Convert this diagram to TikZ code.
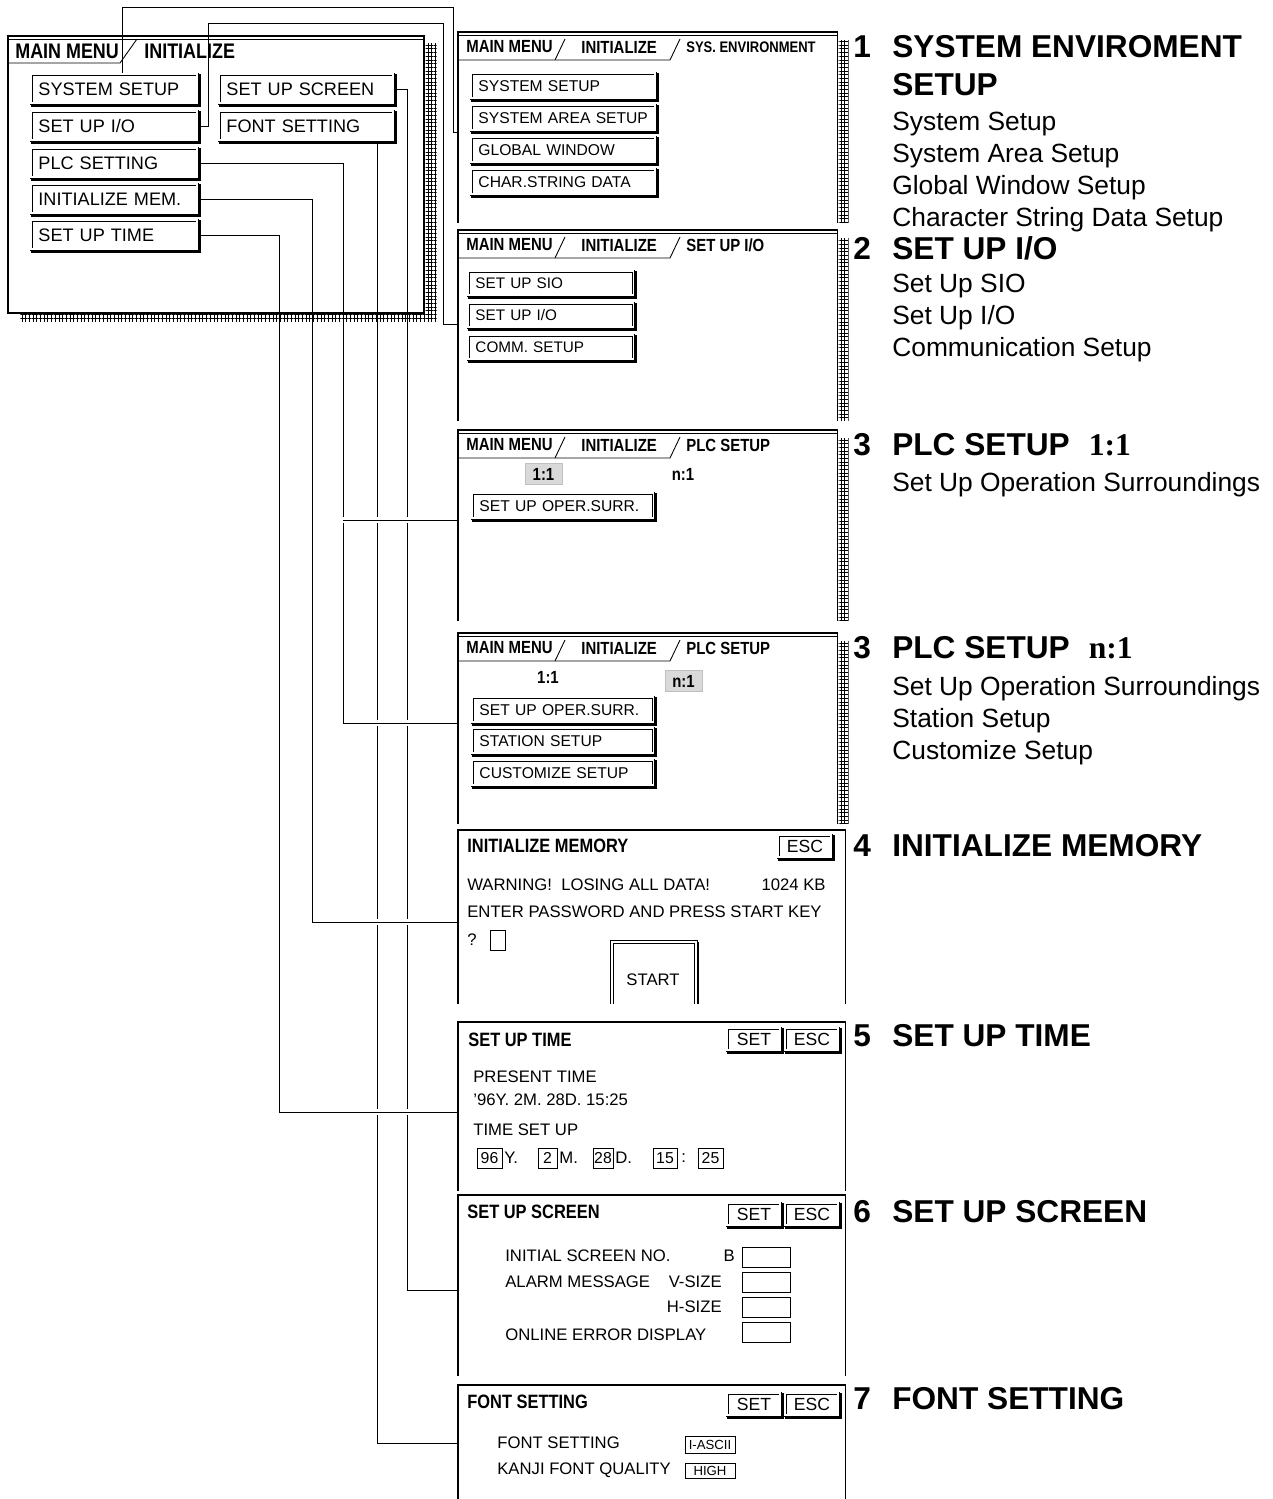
\documentclass[tikz,border=0pt]{standalone}
\usepackage{fontspec}
\setmainfont{Liberation Sans}
\newfontfamily\tabfont[FakeStretch=0.85]{Liberation Sans}
\newfontfamily\serifbf{Liberation Serif}
\usetikzlibrary{calc, backgrounds, patterns.meta}

% screen with the three title tabs
\newcommand{\tabframe}[2]{%
  \draw[frame] (#1.south west) |- (#1.north east) -- (#1.south east);
  \draw[wire] ($(#1.north west)+(0,3)$) -- ($(#1.north east)+(0,3)$);
  \fill[hatch] ($(#1.north east)+(1,8)$) rectangle ($(#1.south east)+(11,0)$);
  \draw[wire] ($(#1.north west)+(0,28)$) -- ++(212,0) -- ++(10,-21);
  \draw[wire] ($(#1.north west)+(97,28)$) -- ++(10,-21);
  \node[tabtxt] (#1-a) at ($(#1.north west)+(8,15)$) {MAIN MENU};
  \node[tabtxt] (#1-b) at ($(#1.north west)+(123,15)$) {INITIALIZE};
  \node[tabtxt] (#1-c) at ($(#1.north west)+(228,15)$) {#2};
}

\begin{document}
\begin{tikzpicture}[
    x=0.02cm, y=-0.02cm,
    frame/.style = {line width=0.9pt},
    wire/.style = {line width=0.5pt},
    gapwire/.style = {wire, preaction={draw=white, line width=3pt}},
    hatch/.style = {pattern={Hatch[angle=0, distance=2.1pt, line width=0.55pt]}},
    area/.style = {anchor=north west, inner sep=0pt},
    tabtxt/.style = {anchor=west, inner sep=0pt, font=\tabfont\bfseries\fontsize{10}{12}\selectfont},
    bigtab/.style = {tabtxt, font=\tabfont\bfseries\fontsize{12}{14}\selectfont},
    ttl/.style = {anchor=west, inner sep=0pt, font=\tabfont\bfseries\fontsize{11}{13}\selectfont},
    txt/.style = {anchor=west, inner sep=0pt, font=\fontsize{9.5}{11}\selectfont},
    btn/.style = {draw, line width=0.5pt, double, double distance=1.1pt,
                  anchor=north west, inner xsep=4pt, inner ysep=0pt, align=left,
                  append after command={\pgfextra{\let\btnnode\tikzlastnode
                    \draw[line width=1.4pt] ([xshift=1.2pt]\btnnode.north east)
                      |- ([yshift=-1.2pt]\btnnode.south west);}}},
    mbtn/.style = {btn, text width=3.04cm, minimum height=0.58cm, font=\fontsize{10.3}{12}\selectfont},
    s1btn/.style = {btn, text width=3.4cm, minimum height=0.5cm, font=\fontsize{8.9}{10}\selectfont},
    s2btn/.style = {btn, text width=3.02cm, minimum height=0.48cm, font=\fontsize{8.7}{10}\selectfont},
    s3btn/.style = {btn, text width=3.34cm, minimum height=0.5cm, font=\fontsize{8.9}{10}\selectfont},
    key/.style = {btn, inner xsep=0pt, minimum width=1.06cm, minimum height=0.44cm, font=\fontsize{10}{12}\selectfont},
    fld/.style = {draw, line width=0.5pt, inner sep=0pt, minimum height=0.4cm, font=\fontsize{9}{10}\selectfont},
    sel/.style = {fill=black!15, draw=black!25, inner sep=0pt, minimum width=0.74cm, minimum height=0.42cm,
                  font=\tabfont\bfseries\fontsize{10}{12}\selectfont},
    head/.style = {anchor=west, inner sep=0pt, font=\fontsize{18}{21}\selectfont\bfseries},
    item/.style = {anchor=north west, inner sep=0pt, align=left, font=\fontsize{15}{18.14}\selectfont}
]
    \useasboundingbox (0,0) rectangle (1273,1499);

    % MAIN MENU window
    \node[area, draw, frame, minimum width=8.32cm, minimum height=5.54cm] (mainwin) at (7,35) {};
    \draw[wire] ($(mainwin.north west)+(0,4)$) -- ($(mainwin.north east)+(0,4)$);
    \draw[wire] ($(mainwin.north west)+(0,28)$) -- ++(113,0) -- ++(17,-24);
    \fill[hatch] ($(mainwin.north east)+(1,8)$) rectangle ($(mainwin.south east)+(12,8)$);
    \fill[hatch] ($(mainwin.south west)+(13,1)$) rectangle ($(mainwin.south east)+(1,8)$);
    \node[bigtab] (mt1) at (15,51) {MAIN MENU};
    \node[bigtab] (mt2) at (144,51) {INITIALIZE};

    \node[mbtn] (msys) at (31,74) {SYSTEM SETUP};
    \node[mbtn] (mio) at (31,111) {SET UP I/O};
    \node[mbtn] (mplc) at (31,148) {PLC SETTING};
    \node[mbtn] (mmem) at (31,184) {INITIALIZE MEM.};
    \node[mbtn] (mtime) at (31,220) {SET UP TIME};
    \node[mbtn, text width=3.2cm] (mscr) at (219,74) {SET UP SCREEN};
    \node[mbtn, text width=3.2cm] (mfont) at (219,111) {FONT SETTING};

    % 1 system environment
    \node[area, minimum width=7.58cm, minimum height=3.8cm] (scr1) at (458,32) {};
    \tabframe{scr1}{\fontsize{8.7}{10}\selectfont SYS. ENVIRONMENT}
    \node[s1btn] (s1a) at (471,73) {SYSTEM SETUP};
    \node[s1btn] (s1b) at (471,105) {SYSTEM AREA SETUP};
    \node[s1btn] (s1c) at (471,137) {GLOBAL WINDOW};
    \node[s1btn] (s1d) at (471,169) {CHAR.STRING DATA};

    % 2 set up i/o
    \node[area, minimum width=7.58cm, minimum height=3.8cm] (scr2) at (458,230) {};
    \tabframe{scr2}{SET UP I/O}
    \node[s2btn] (s2a) at (468,271) {SET UP SIO};
    \node[s2btn] (s2b) at (468,303) {SET UP I/O};
    \node[s2btn] (s2c) at (468,335) {COMM. SETUP};

    % 3 plc setup 1:1
    \node[area, minimum width=7.58cm, minimum height=3.8cm] (scr3) at (458,430) {};
    \tabframe{scr3}{PLC SETUP}
    \node[sel] (s3one) at (543.5,474) {1:1};
    \node[tabtxt, anchor=center] (s3n) at (683,474) {n:1};
    \node[s3btn] (s3a) at (472,493) {SET UP OPER.SURR.};

    % 3 plc setup n:1
    \node[area, minimum width=7.58cm, minimum height=3.8cm] (scr4) at (458,633) {};
    \tabframe{scr4}{PLC SETUP}
    \node[tabtxt, anchor=center] (s4one) at (548,677) {1:1};
    \node[sel] (s4n) at (683.5,681) {n:1};
    \node[s3btn] (s4a) at (472,697) {SET UP OPER.SURR.};
    \node[s3btn] (s4b) at (472,728) {STATION SETUP};
    \node[s3btn] (s4c) at (472,760) {CUSTOMIZE SETUP};

    % 4 initialize memory
    \node[area, minimum width=7.74cm, minimum height=3.46cm] (scr5) at (458,830) {};
    \draw[frame] (scr5.south west) |- (scr5.north east) -- (scr5.south east);
    \node[ttl] (s5t) at (467,846) {INITIALIZE MEMORY};
    \node[key] (s5esc) at (778,835) {ESC};
    \node[txt] (s5w) at (467,885) {WARNING!\ \ LOSING ALL DATA!};
    \node[txt, anchor=east] (s5kb) at (826,885) {1024 KB};
    \node[txt] (s5p) at (467,912) {ENTER PASSWORD AND PRESS START KEY};
    \node[txt] (s5q) at (467,940) {?};
    \node[fld, minimum width=0.3cm] (s5pw) at (497.5,940) {};
    \node[area, minimum width=1.66cm, minimum height=1.22cm] (start) at (612,942) {};
    \draw[line width=0.5pt, double, double distance=1.1pt] (start.south west) |- (start.north east) -- (start.south east);
    \draw[line width=1.4pt] ([xshift=1.2pt]start.north east) -- ([xshift=1.2pt]start.south east);
    \node[txt, anchor=center] (s5go) at (653,980) {START};

    % 5 set up time
    \node[area, minimum width=7.74cm, minimum height=3.36cm] (scr6) at (458,1022) {};
    \draw[frame] (scr6.south west) |- (scr6.north east) -- (scr6.south east);
    \node[ttl] (s6t) at (468,1040) {SET UP TIME};
    \node[key] (s6set) at (727,1028) {SET};
    \node[key] (s6esc) at (785,1028) {ESC};
    \node[txt] (s6a) at (473,1077) {PRESENT TIME};
    \node[txt] (s6b) at (473,1100) {'96Y.\ 2M.\ 28D.\ 15:25};
    \node[txt] (s6c) at (473,1130) {TIME SET UP};
    \node[fld, minimum width=0.5cm] (s6y) at (489.5,1158) {96};
    \node[txt] (s6yl) at (504,1158) {Y.};
    \node[fld, minimum width=0.38cm] (s6m) at (547.5,1158) {2};
    \node[txt] (s6ml) at (559,1158) {M.};
    \node[fld, minimum width=0.4cm] (s6d) at (603,1158) {28};
    \node[txt] (s6dl) at (615,1158) {D.};
    \node[fld, minimum width=0.48cm] (s6h) at (665,1158) {15};
    \node[txt] (s6hl) at (681,1158) {:};
    \node[fld, minimum width=0.5cm] (s6mi) at (710.5,1158) {25};

    % 6 set up screen
    \node[area, minimum width=7.74cm, minimum height=3.6cm] (scr7) at (458,1195) {};
    \draw[frame] (scr7.south west) |- (scr7.north east) -- (scr7.south east);
    \node[ttl] (s7t) at (467,1212) {SET UP SCREEN};
    \node[key] (s7set) at (727,1203) {SET};
    \node[key] (s7esc) at (785,1203) {ESC};
    \node[txt] (s7a) at (505,1256) {INITIAL SCREEN NO.};
    \node[txt, anchor=east] (s7b) at (735,1256) {B};
    \node[fld, minimum width=0.96cm] (s7f1) at (766,1257) {};
    \node[txt] (s7c) at (505,1282) {ALARM MESSAGE};
    \node[txt, anchor=east] (s7v) at (722,1282) {V-SIZE};
    \node[fld, minimum width=0.96cm] (s7f2) at (766,1282) {};
    \node[txt, anchor=east] (s7h) at (722,1307) {H-SIZE};
    \node[fld, minimum width=0.96cm] (s7f3) at (766,1307) {};
    \node[txt] (s7d) at (505,1335) {ONLINE ERROR DISPLAY};
    \node[fld, minimum width=0.96cm] (s7f4) at (766,1332) {};

    % 7 font setting
    \node[area, minimum width=7.74cm, minimum height=2.28cm] (scr8) at (458,1385) {};
    \draw[frame] (scr8.south west) |- (scr8.north east) -- (scr8.south east);
    \node[ttl] (s8t) at (467,1402) {FONT SETTING};
    \node[key] (s8set) at (727,1393) {SET};
    \node[key] (s8esc) at (785,1393) {ESC};
    \node[txt] (s8a) at (497,1443) {FONT SETTING};
    \node[fld, minimum width=1cm, minimum height=0.34cm, font=\fontsize{7.5}{9}\selectfont] (s8f1) at (710,1445) {I-ASCII};
    \node[txt] (s8b) at (497,1470) {KANJI FONT QUALITY};
    \node[fld, minimum width=1cm, minimum height=0.3cm, font=\fontsize{7.5}{9}\selectfont] (s8f2) at (710,1471) {HIGH};

    % headings on the right
    \node[head] (h1) at (853,47) {\makebox[0.78cm][l]{1}SYSTEM ENVIROMENT};
    \node[head] (h1b) at (892,85) {SETUP};
    \node[item] (i1) at (892,112) {System Setup\\System Area Setup\\Global Window Setup\\Character String Data Setup};
    \node[head] (h2) at (853,248) {\makebox[0.78cm][l]{2}SET UP I/O};
    \node[item] (i2) at (892,274) {Set Up SIO\\Set Up I/O\\Communication Setup};
    \node[head] (h3) at (853,445) {\makebox[0.78cm][l]{3}PLC SETUP\hspace{0.6em}{\serifbf 1:1}};
    \node[item] (i3) at (892,472) {Set Up Operation Surroundings};
    \node[head] (h3b) at (853,648) {\makebox[0.78cm][l]{3}PLC SETUP\hspace{0.6em}{\serifbf n:1}};
    \node[item] (i4) at (892,676) {Set Up Operation Surroundings\\Station Setup\\Customize Setup};
    \node[head] (h4) at (853,846) {\makebox[0.78cm][l]{4}INITIALIZE MEMORY};
    \node[head] (h5) at (853,1036) {\makebox[0.78cm][l]{5}SET UP TIME};
    \node[head] (h6) at (853,1212) {\makebox[0.78cm][l]{6}SET UP SCREEN};
    \node[head] (h7) at (853,1399) {\makebox[0.78cm][l]{7}FONT SETTING};

    % links from the menu keys to their screens
    \begin{scope}[on background layer]
        \draw[wire] (mscr.east) -| (407,1290) -- (scr7.west |- 0,1290);
        \draw[wire] ([xshift=-0.32cm]mfont.south east) |- (scr8.west |- 0,1443);
        \coordinate (plcfork) at (343,520);
        \draw[gapwire] (mplc.east) -| (343,723) -- (scr4.west |- 0,723);
        \draw[gapwire] (plcfork) -- (scr3.west |- plcfork);
        \draw[gapwire] (mmem.east) -| (312,922) -- (scr5.west |- 0,922);
        \draw[gapwire] (mtime.east) -| (279,1112) -- (scr6.west |- 0,1112);
        \draw[wire] ([xshift=0.16cm]msys.north) |- (453,7) -- (453,132) -- (scr1.west |- 0,132);
        \draw[wire] (mio.east) -| (208,23) -| (443,324) -- (scr2.west |- 0,324);
    \end{scope}

\end{tikzpicture}
\end{document}
